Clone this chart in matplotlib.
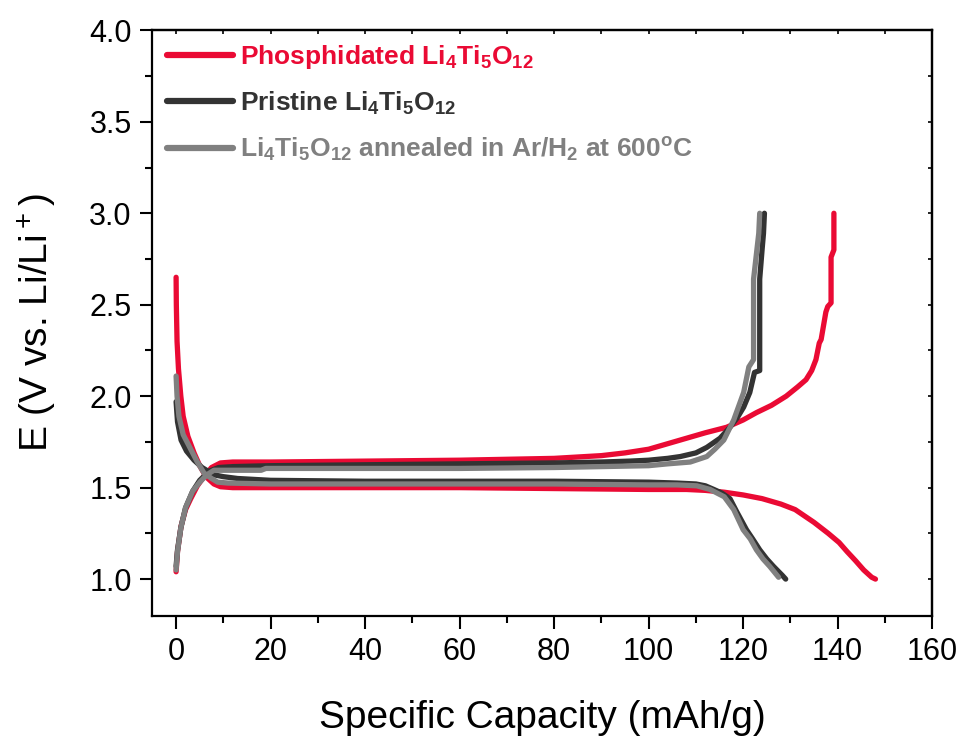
import matplotlib
matplotlib.use('Agg')
import matplotlib.pyplot as plt
from matplotlib.ticker import MultipleLocator
import numpy as np

plt.rcParams['font.family'] = ['Liberation Sans', 'DejaVu Sans']
plt.rcParams['mathtext.default'] = 'regular'

# phosphidated LTO
phos_dis_x = [0, 0.05, 0.2, 0.5, 1.0, 1.5, 2.5, 3.8, 5.0, 6.3, 8.0, 9.4, 12, 20, 40, 60, 80, 100, 108,
              112, 116, 120, 124, 128, 131, 135, 138, 140.3, 142, 143.8, 145.5, 147.2, 148]
phos_dis_y = [2.65, 2.50, 2.30, 2.15, 2.00, 1.89, 1.78, 1.69, 1.62, 1.56, 1.52, 1.505, 1.50, 1.50, 1.50, 1.50,
              1.495, 1.49, 1.49, 1.485, 1.475, 1.46, 1.44, 1.41, 1.38, 1.31, 1.25, 1.20, 1.15, 1.10, 1.05, 1.01, 1.00]
phos_chg_x = [0, 0.3, 1.05, 2, 3.1, 4.5, 5.9, 7.5, 9.4, 12, 20, 40, 60, 80, 90, 95, 100, 104, 108, 112,
              116.5, 120, 122.8, 126, 129.1, 131.5, 133.3, 134.5, 135.4, 136.1, 136.5, 137.5, 137.9, 138.6,
              138.6, 139.2, 139.2]
phos_chg_y = [1.04, 1.15, 1.29, 1.38, 1.44, 1.51, 1.56, 1.61, 1.635, 1.64, 1.64, 1.645, 1.65, 1.66, 1.675,
              1.69, 1.71, 1.74, 1.77, 1.80, 1.83, 1.87, 1.91, 1.95, 2.00, 2.05, 2.09, 2.14, 2.20, 2.29, 2.31,
              2.46, 2.49, 2.51, 2.76, 2.80, 3.00]

# pristine LTO
pris_dis_x = [0, 0.3, 1.05, 2.2, 3.8, 5.5, 8, 10, 13, 20, 40, 60, 80, 100, 106, 110, 112, 113.8, 115.5,
              117.2, 118.6, 120.7, 122, 123.5, 125, 126.4, 128.3, 129]
pris_dis_y = [1.97, 1.86, 1.76, 1.70, 1.65, 1.61, 1.57, 1.56, 1.55, 1.54, 1.535, 1.535, 1.535, 1.53, 1.525,
              1.52, 1.51, 1.49, 1.47, 1.44, 1.37, 1.27, 1.22, 1.16, 1.11, 1.07, 1.02, 1.00]
pris_chg_x = [0, 0.3, 1, 2, 3.5, 5, 7, 9, 12, 20, 40, 60, 80, 90, 96, 100, 104, 106.7, 110, 112.3, 115.1,
              117.2, 118.7, 120.1, 121.4, 122.4, 123.5, 123.5, 124, 124.3, 124.5]
pris_chg_y = [1.07, 1.16, 1.28, 1.39, 1.48, 1.54, 1.59, 1.61, 1.615, 1.62, 1.625, 1.63, 1.635, 1.64, 1.645,
              1.65, 1.66, 1.67, 1.69, 1.72, 1.77, 1.83, 1.88, 1.94, 2.02, 2.13, 2.14, 2.64, 2.80, 2.89, 3.00]

# annealed in Ar/H2
ann_dis_x = [0, 0.2, 0.6, 1.5, 3.1, 4.5, 5.9, 7.5, 8.8, 11, 20, 40, 60, 80, 100, 106, 110.2, 113, 116,
             118, 120, 121.5, 122.8, 124.2, 125.6, 127.5]
ann_dis_y = [2.11, 2.00, 1.89, 1.79, 1.71, 1.64, 1.58, 1.55, 1.53, 1.525, 1.52, 1.52, 1.52, 1.52, 1.515,
             1.515, 1.51, 1.49, 1.45, 1.38, 1.27, 1.22, 1.16, 1.11, 1.07, 1.01]
ann_chg_x = [0, 0.3, 1, 2, 3.5, 5, 6.5, 8, 10, 18, 19, 60, 80, 100, 104, 108.8, 112.3, 114, 115.9, 118,
             120.1, 121.2, 122.2, 122.2, 123.3, 123.5]
ann_chg_y = [1.05, 1.15, 1.28, 1.39, 1.48, 1.53, 1.57, 1.595, 1.595, 1.595, 1.605, 1.605, 1.61, 1.62, 1.63,
             1.64, 1.67, 1.71, 1.76, 1.87, 2.02, 2.16, 2.20, 2.64, 2.89, 3.00]

labels = [r'Phosphidated Li$_4$Ti$_5$O$_{12}$',
          r'Pristine Li$_4$Ti$_5$O$_{12}$',
          r'Li$_4$Ti$_5$O$_{12}$ annealed in Ar/H$_2$ at 600$^o$C']
colors = ['#ea0a34', '#333333', '#808080']
curves = [(phos_dis_x, phos_dis_y, phos_chg_x, phos_chg_y),
          (pris_dis_x, pris_dis_y, pris_chg_x, pris_chg_y),
          (ann_dis_x, ann_dis_y, ann_chg_x, ann_chg_y)]

fig = plt.figure(figsize=(9.65, 7.4), dpi=100)
ax = fig.add_axes([0.158, 0.168, 0.808, 0.791])

handles = []
for (dx, dy, cx, cy), c, lab in zip(curves, colors, labels):
    h, = ax.plot(dx, dy, color=c, lw=3.8, solid_capstyle='round', solid_joinstyle='round', label=lab)
    ax.plot(cx, cy, color=c, lw=3.8, solid_capstyle='round', solid_joinstyle='round')
    handles.append(h)

ax.set_xlim(-5, 160)
ax.set_ylim(0.8, 4.0)
ax.xaxis.set_major_locator(MultipleLocator(20))
ax.xaxis.set_minor_locator(MultipleLocator(10))
ax.yaxis.set_major_locator(MultipleLocator(0.5))
ax.yaxis.set_minor_locator(MultipleLocator(0.25))
ax.set_yticks(np.arange(1.0, 4.01, 0.5))
ax.tick_params(which='major', direction='out', length=9, width=1.5, labelsize=22, pad=6)
ax.tick_params(which='minor', direction='out', length=5, width=1.5)
for s in ax.spines.values():
    s.set_linewidth(1.6)

# small inward ticks on top and right
top = ax.secondary_xaxis('top')
top.xaxis.set_major_locator(MultipleLocator(20))
top.xaxis.set_minor_locator(MultipleLocator(10))
top.tick_params(which='both', direction='in', length=3, width=1.2, labeltop=False)
right = ax.secondary_yaxis('right')
right.yaxis.set_major_locator(MultipleLocator(0.5))
right.yaxis.set_minor_locator(MultipleLocator(0.25))
right.tick_params(which='both', direction='in', length=3, width=1.2, labelright=False)
for s in list(top.spines.values()) + list(right.spines.values()):
    s.set_linewidth(1.6)

ax.set_xlabel('Specific Capacity (mAh/g)', fontsize=28, labelpad=24)
ax.set_ylabel(r'E (V vs. Li/Li$^+$)', fontsize=28, labelpad=22)

leg = ax.legend(handles=handles, loc='upper left', bbox_to_anchor=(-0.009, 1.014), frameon=False,
                prop={'weight': 'bold', 'size': 19}, handlelength=2.5, handletextpad=0.3,
                labelspacing=0.7, borderaxespad=0.4)
for t, c in zip(leg.get_texts(), colors):
    t.set_color(c)
for l in leg.get_lines():
    l.set_linewidth(4.5)

plt.savefig('out.png', dpi=100)
